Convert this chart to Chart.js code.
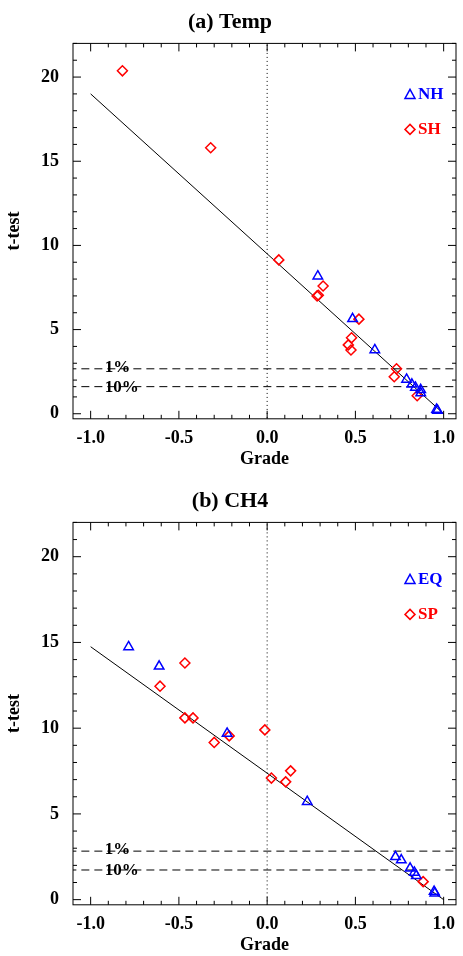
<!DOCTYPE html>
<html><head><meta charset="utf-8">
<script src="https://cdn.jsdelivr.net/npm/chart.js@4"></script>
<style>body{margin:0;background:#fff;overflow:hidden}.w{position:absolute;left:0;width:463px}</style>
</head><body>
<div class="w" style="top:0;height:478px"><canvas id="c1"></canvas></div>
<div class="w" style="top:482px;height:474px"><canvas id="c2"></canvas></div>
<script>
const xTicks=[-1.0,-0.5,0.0,0.5,1.0];
const yTicks=[0,5,10,15,20];
// Panel (a) Temp
const nhX=[0.287,0.484,0.61,0.79,0.82,0.84,0.87,0.87,0.96,0.965];
const nhY=[8.17,5.64,3.79,2.04,1.75,1.56,1.42,1.23,0.25,0.2];
const shX=[-0.82,-0.32,0.066,0.283,0.29,0.317,0.52,0.478,0.46,0.475,0.733,0.72,0.85];
const shY=[20.37,15.8,9.14,7.0,7.04,7.59,5.62,4.51,4.09,3.79,2.67,2.2,1.07];
const fitA=[[-1,19.0],[1,0]];
const sigA=[2.67,1.61];
// Panel (b) CH4
const eqX=[-0.785,-0.612,-0.227,0.227,0.727,0.76,0.81,0.834,0.845,0.946,0.95];
const eqY=[14.74,13.61,9.69,5.71,2.5,2.31,1.83,1.59,1.4,0.47,0.38];
const spX=[-0.466,-0.607,-0.466,-0.42,-0.3,-0.215,-0.013,0.024,0.105,0.133,0.884];
const spY=[13.8,12.45,10.6,10.6,9.17,9.55,9.9,7.09,6.87,7.51,1.05];
const fitB=[[-1,14.75],[1,0]];
const sigB=[2.83,1.73];
const sigLabels=['1%','10%'];

const F='"Liberation Serif", serif';
const frame={id:'frame',afterDraw(ch){
  const c=ch.ctx,a=ch.chartArea,xs=ch.scales.x,ys=ch.scales.y;
  c.save();c.strokeStyle='#000';c.lineWidth=1;
  c.strokeRect(a.left,a.top,a.right-a.left,a.bottom-a.top);
  for(let v=-1.0;v<=1.0001;v+=0.1){const p=xs.getPixelForValue(v);const maj=Math.abs(v*2-Math.round(v*2))<1e-6;const L=maj?8:4;
    c.beginPath();c.moveTo(p,a.bottom);c.lineTo(p,a.bottom-L);c.moveTo(p,a.top);c.lineTo(p,a.top+L);c.stroke();}
  for(let v=0;v<=22;v+=1){const p=ys.getPixelForValue(v);const L=v%5===0?8:4;
    c.beginPath();c.moveTo(a.left,p);c.lineTo(a.left+L,p);c.moveTo(a.right,p);c.lineTo(a.right-L,p);c.stroke();}
  const o=ch.options.plugins.frame;
  c.font='bold 17px '+F;c.fillStyle='#000';c.textBaseline='alphabetic';
  o.sig.forEach((s,i)=>{c.fillText(sigLabels[i],xs.getPixelForValue(-0.92),ys.getPixelForValue(s)+(i===0?3:5));});
  const lx=a.right-46;
  o.leg.forEach((l,i)=>{const y=a.top+o.ly+i*35;c.strokeStyle=l.c;c.fillStyle=l.c;c.lineWidth=1.5;c.beginPath();
    if(i===0){c.moveTo(lx-5,y+4);c.lineTo(lx+5,y+4);c.lineTo(lx,y-5);c.closePath();}
    else{c.moveTo(lx,y-5);c.lineTo(lx+5,y);c.lineTo(lx,y+5);c.lineTo(lx-5,y);c.closePath();}
    c.stroke();c.font='bold 17px '+F;c.textBaseline='middle';c.fillText(l.t,lx+8,y);});
  c.restore();}};
Chart.register(frame);
function mk(id,title,ax,ay,bx,by,fit,sig,leg,pad,pb,ly){
  const pts=(X,Y)=>X.map((x,i)=>({x,y:Y[i]}));
  new Chart(document.getElementById(id),{type:'scatter',data:{datasets:[
    {data:pts(ax,ay),pointStyle:'triangle',pointRadius:5.5,borderColor:'#0000ff',backgroundColor:'transparent',borderWidth:1.5},
    {data:pts(bx,by),pointStyle:'rectRot',pointRadius:5,borderColor:'#ff0000',backgroundColor:'transparent',borderWidth:1.5},
    {type:'line',data:fit.map(p=>({x:p[0],y:p[1]})),borderColor:'#000',borderWidth:1,pointRadius:0},
    {type:'line',data:[{x:-1.2,y:sig[0]},{x:1.2,y:sig[0]}],borderColor:'#000',borderWidth:1,borderDash:[8,5],pointRadius:0},
    {type:'line',data:[{x:-1.2,y:sig[1]},{x:1.2,y:sig[1]}],borderColor:'#000',borderWidth:1,borderDash:[8,5],pointRadius:0},
    {type:'line',data:[{x:0,y:-5},{x:0,y:30}],borderColor:'#000',borderWidth:1,borderDash:[1,3],pointRadius:0}
  ]},options:{animation:false,responsive:true,maintainAspectRatio:false,clip:true,
    layout:{padding:{right:3,top:pad,bottom:pb}},
    plugins:{legend:{display:false},tooltip:{enabled:false},
      title:{display:true,text:title,color:'#000',font:{family:F,size:22,weight:'bold'},padding:{top:0,bottom:8}},
      frame:{sig,leg,ly}},
    scales:{
      x:{type:'linear',min:-1.1,max:1.07,grid:{display:false},border:{display:false},
        afterBuildTicks:s=>{s.ticks=xTicks.map(v=>({value:v}));},
        ticks:{color:'#000',font:{family:F,size:18,weight:'bold'},callback:v=>v.toFixed(1),padding:1,maxRotation:0},
        title:{display:true,text:'Grade',color:'#000',font:{family:F,size:18,weight:'bold'},padding:{top:-2,bottom:0}}},
      y:{type:'linear',min:-0.3,max:22,grid:{display:false},border:{display:false},
        afterBuildTicks:s=>{s.ticks=yTicks.map(v=>({value:v}));},
        afterFit:s=>{s.width=73;},
        ticks:{color:'#000',font:{family:F,size:18,weight:'bold'},padding:6},
        title:{display:true,text:'t-test',color:'#000',font:{family:F,size:18,weight:'bold'}}}}}});
}
mk('c1','(a) Temp',nhX,nhY,shX,shY,fitA,sigA,[{t:'NH',c:'#0000ff'},{t:'SH',c:'#ff0000'}],9,8,51);
mk('c2','(b) CH4',eqX,eqY,spX,spY,fitB,sigB,[{t:'EQ',c:'#0000ff'},{t:'SP',c:'#ff0000'}],6,0,57);
</script></body></html>
